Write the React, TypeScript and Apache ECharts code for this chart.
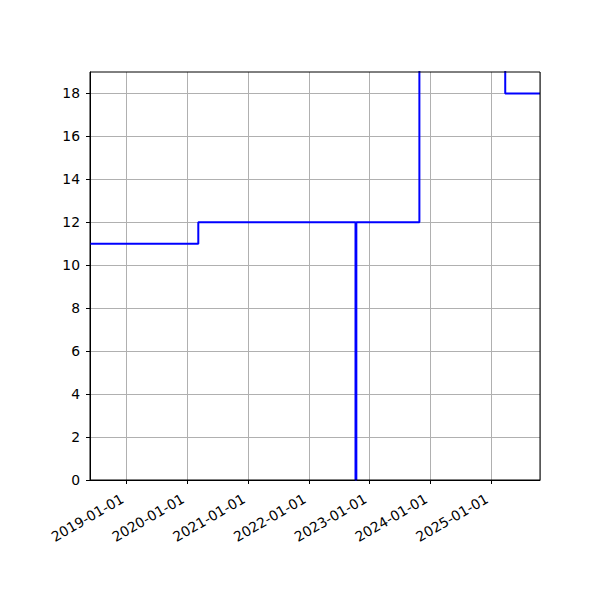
import React, { useEffect, useRef } from "react";
import * as echarts from "echarts";

const stepDates: string[] = [
  "2018-05-26",
  "2020-03-07",
  "2022-10-08",
  "2022-10-13",
  "2023-10-27",
  "2025-03-26",
  "2025-10-21",
];
const stepValues: number[] = [11, 12, 0, 12, 25, 18, 18];
const xMin = "2018-05-26";
const xMax = "2025-10-21";
const yTicks: number[] = [0, 2, 4, 6, 8, 10, 12, 14, 16, 18];
const yMin = 0;
const yMax = 19;

export default function App() {
  const ref = useRef<HTMLDivElement>(null);
  useEffect(() => {
    if (!ref.current) return;
    const chart = echarts.init(ref.current, null, { renderer: "svg" });
    const font = "DejaVu Sans";
    chart.setOption({
      animation: false,
      backgroundColor: "#ffffff",
      grid: {
        left: 90,
        right: 60,
        top: 72,
        bottom: 120,
        show: true,
        borderColor: "#000000",
        borderWidth: 1,
        backgroundColor: "transparent",
        z: 3,
      },
      xAxis: {
        type: "time",
        min: new Date(xMin + "T00:00:00Z").getTime(),
        max: new Date(xMax + "T00:00:00Z").getTime(),
        splitNumber: 8,
        minInterval: 365 * 86400000,
        axisLine: { show: true, onZero: false, lineStyle: { color: "#000", width: 1 } },
        axisTick: { show: true, length: 4, lineStyle: { color: "#000", width: 1 } },
        axisLabel: {
          rotate: 30,
          margin: 15,
          padding: [0, 5, 0, 0],
          color: "#000",
          fontFamily: font,
          fontSize: 13.9,
          formatter: "{yyyy}-{MM}-{dd}",
          showMinLabel: false,
          showMaxLabel: false,
          hideOverlap: false,
        },
        splitLine: { show: true, lineStyle: { color: "#b0b0b0", width: 1 } },
        minorTick: { show: false },
      },
      yAxis: {
        type: "value",
        min: yMin,
        max: yMax,
        interval: 2,
        axisLine: { show: true, lineStyle: { color: "#000", width: 1 } },
        axisTick: {
          show: true,
          length: 4,
          customValues: yTicks,
          lineStyle: { color: "#000", width: 1 },
        },
        axisLabel: {
          margin: 10,
          color: "#000",
          fontFamily: font,
          fontSize: 13.9,
          customValues: yTicks,
        },
        splitLine: { show: true, lineStyle: { color: "#b0b0b0", width: 1 } },
      },
      series: [
        {
          type: "line",
          step: "end",
          showSymbol: false,
          symbol: "none",
          clip: true,
          lineStyle: { color: "#0000ff", width: 2 },
          data: stepDates.map((d, i) => [new Date(d + "T00:00:00Z").getTime(), stepValues[i]]),
          z: 2,
        },
      ],
    });
    return () => chart.dispose();
  }, []);
  return (
    <div
      ref={ref}
      style={{ position: "absolute", left: 0, top: 0, width: 600, height: 600 }}
    />
  );
}
